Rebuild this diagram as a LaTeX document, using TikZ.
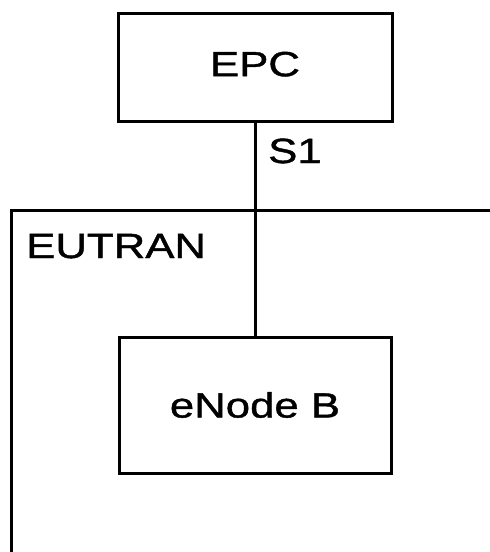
\documentclass[tikz,border=0pt]{standalone}
\usepackage{fontspec}
\setmainfont[FakeStretch=1.25,FakeBold=1.2]{Liberation Sans}
\begin{document}
\begin{tikzpicture}[x=1pt,y=-1pt,
  every node/.style={font=\fontsize{35}{40}\selectfont},
  entity/.style={draw,line width=3pt,rectangle,inner sep=0pt},
  wire/.style={line width=3pt},
  txt/.style={inner sep=0pt,anchor=base west}]
  \useasboundingbox (0,0) rectangle (490,552);
  % core network and radio node
  \node[entity,minimum width=274pt,minimum height=108pt] (epc) at (255,67) {\raisebox{6pt}{EPC}};
  \node[entity,minimum width=272pt,minimum height=136pt] (enb) at (255,405) {eNode B};
  % S1 interface
  \draw[wire] (epc.south) -- (enb.north);
  \node[txt] (s1) at (268,163) {S1};
  % EUTRAN domain boundary
  \coordinate (dtop) at (490,210);
  \coordinate (dcorner) at (11,210);
  \coordinate (dbottom) at (11,552);
  \draw[wire] (dtop) -- (dcorner) -- (dbottom);
  \node[txt] (eutran) at (26,258) {EUTRAN};
\end{tikzpicture}
\end{document}
